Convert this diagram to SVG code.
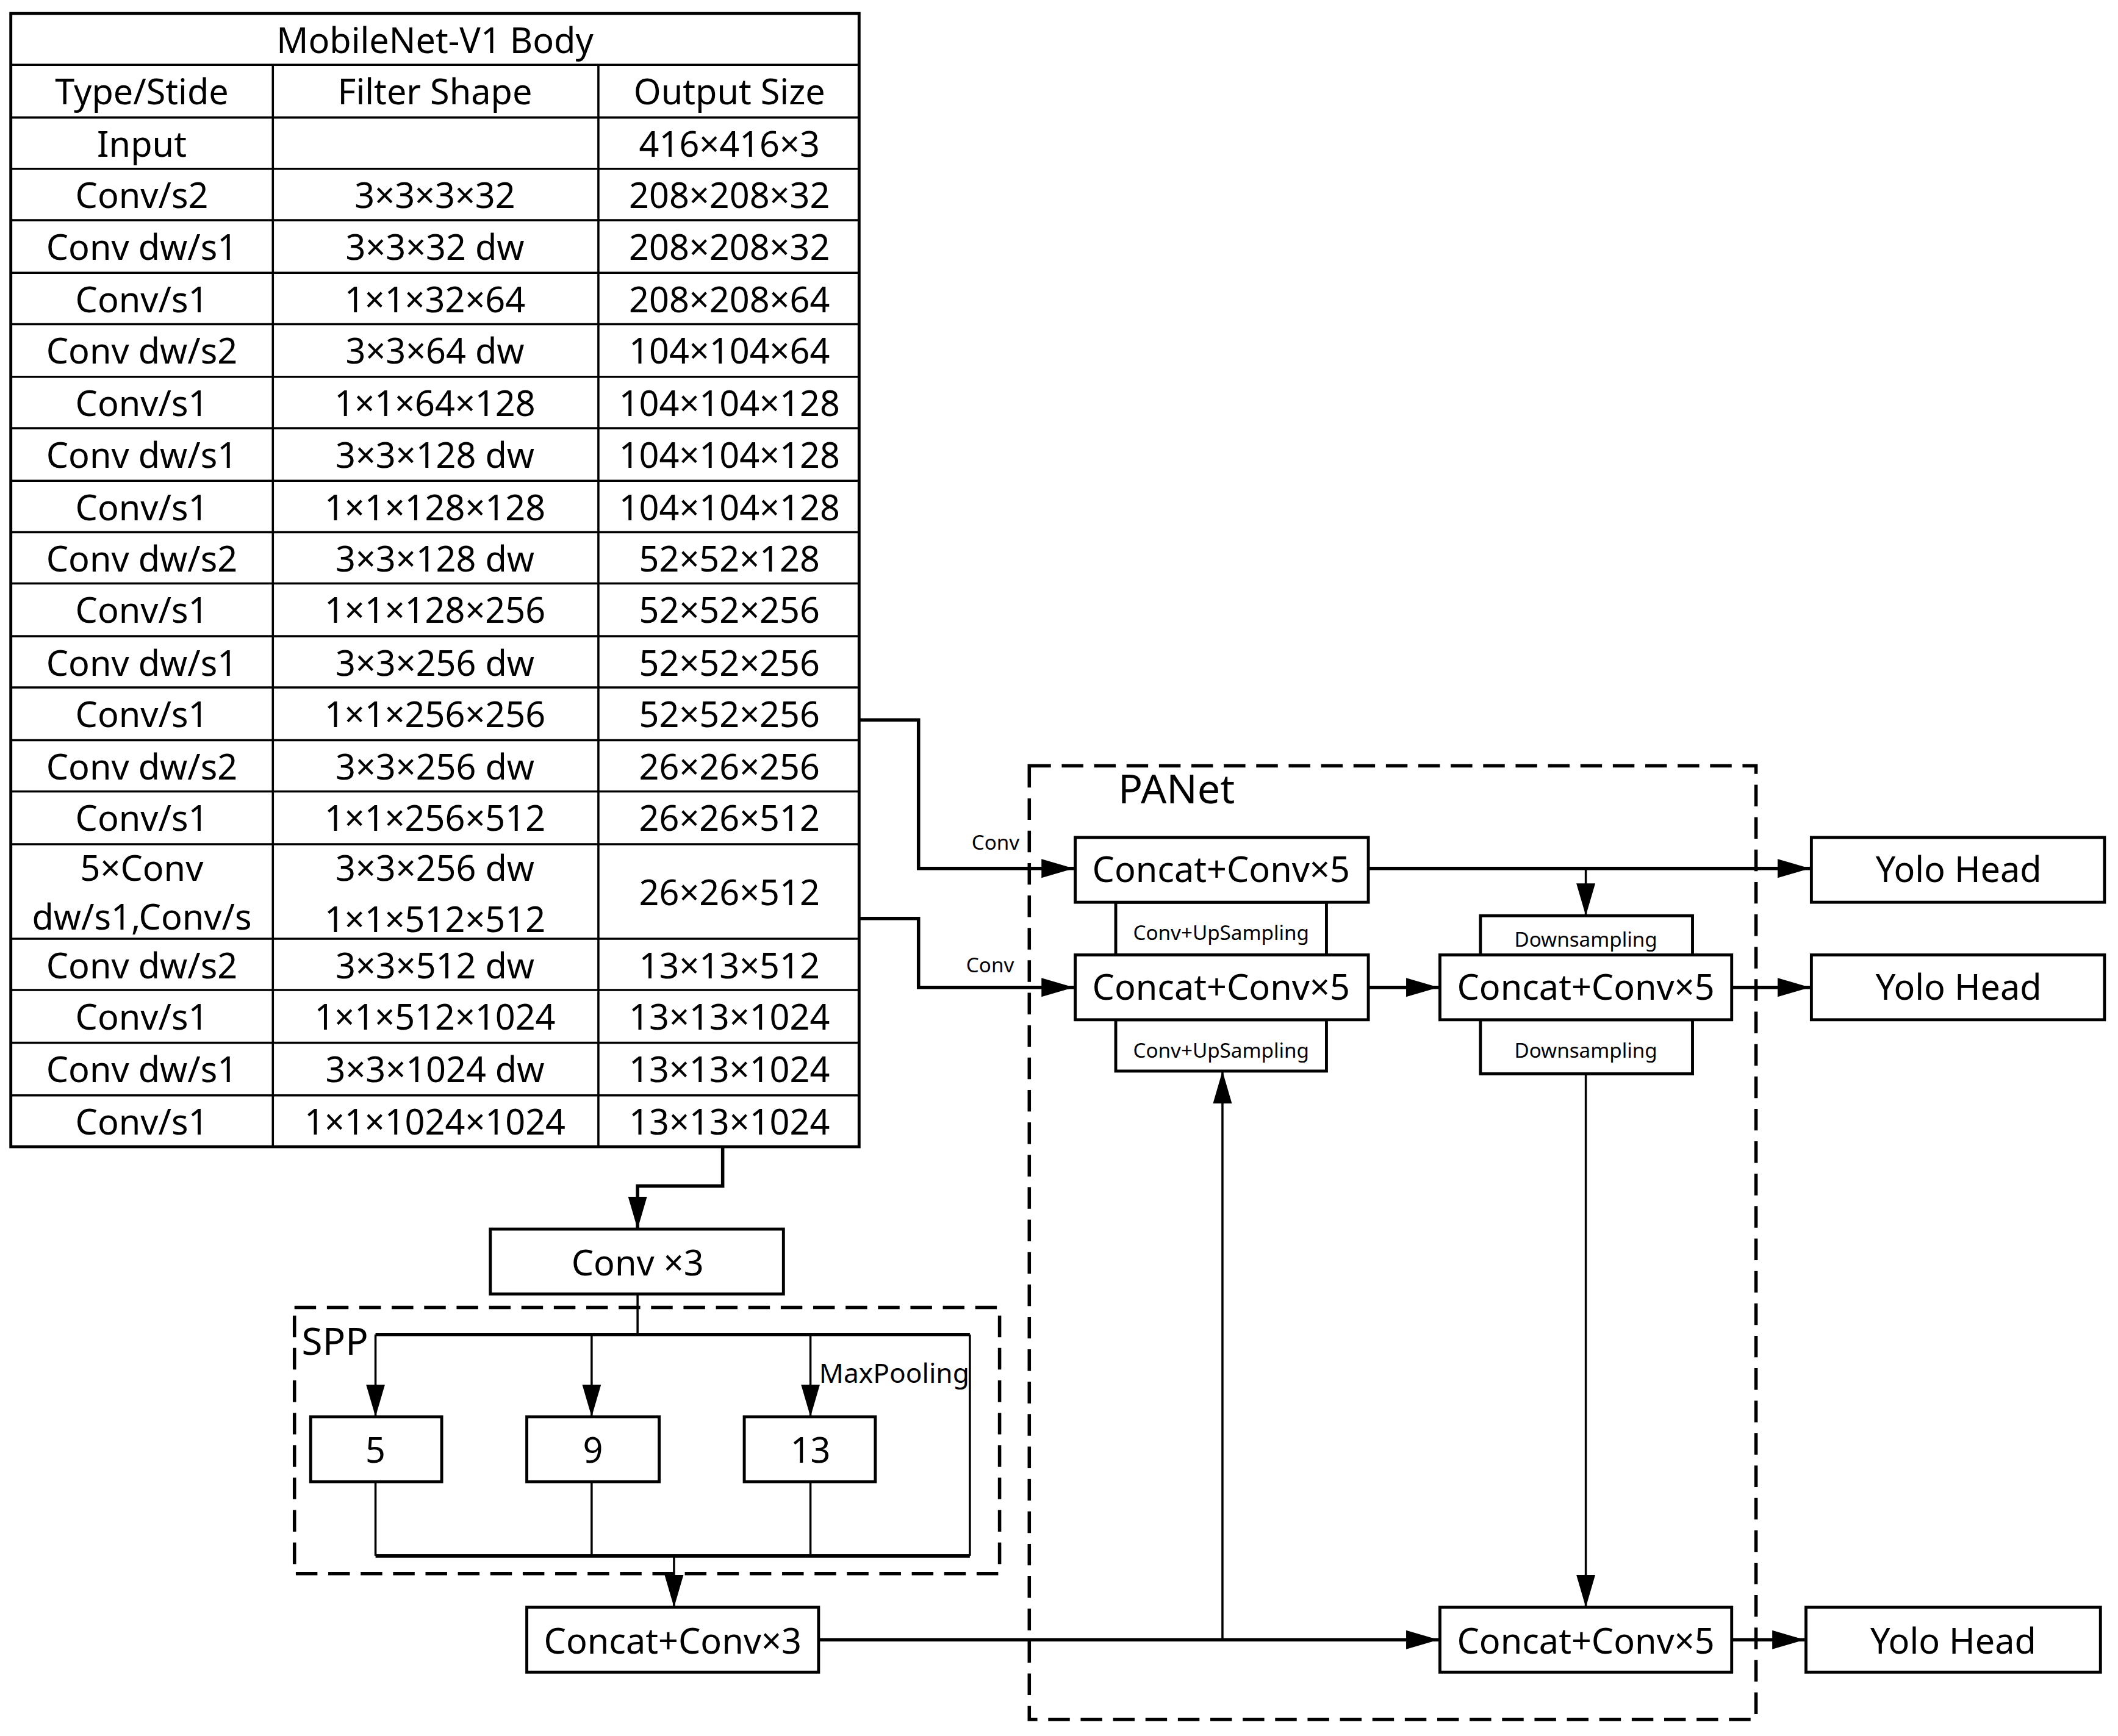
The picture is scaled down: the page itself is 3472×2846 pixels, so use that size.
<svg xmlns="http://www.w3.org/2000/svg" width="3472" height="2846" viewBox="0 0 3472 2846">
<defs>
<style>
text{font-family:"Noto Sans","Open Sans",sans-serif;fill:#000;text-anchor:middle;dominant-baseline:central}
.t{font-size:26px}
.s{font-size:15px}
.b{fill:#fff;stroke:#000;stroke-width:2.2}
.c{fill:none;stroke:#000;stroke-width:2.5}
.n{fill:none;stroke:#000;stroke-width:1.6}
.d{fill:none;stroke:#000;stroke-width:2.5;stroke-dasharray:16 8}
</style>
<marker id="a" markerUnits="userSpaceOnUse" markerWidth="26" markerHeight="16" refX="24" refY="8" orient="auto"><path d="M0,1 L24,8 L0,15 Z" fill="#000"/></marker>
</defs>
<rect width="3472" height="2846" fill="#fff"/>
<g transform="scale(2.2143)">
<g id="table">
<rect x="8" y="10" width="628" height="839" class="b"/>
<g class="n" stroke-width="2">
<path d="M8,48H636M8,87H636M8,125H636M8,163H636M8,202H636M8,240H636M8,279H636M8,317H636M8,356H636M8,394H636M8,432H636M8,471H636M8,509H636M8,548H636M8,586H636M8,625H636M8,695H636M8,733H636M8,772H636M8,811H636"/>
<path d="M202,48V849M443,48V849"/>
</g>
<g class="t">
<text x="322" y="29">MobileNet-V1 Body</text>
<text x="105" y="67">Type/Stide</text><text x="322" y="67">Filter Shape</text><text x="540" y="67">Output Size</text>
<text x="105" y="106">Input</text><text x="540" y="106">416×416×3</text>
<text x="105" y="144">Conv/s2</text><text x="322" y="144">3×3×3×32</text><text x="540" y="144">208×208×32</text>
<text x="105" y="182">Conv dw/s1</text><text x="322" y="182">3×3×32 dw</text><text x="540" y="182">208×208×32</text>
<text x="105" y="221">Conv/s1</text><text x="322" y="221">1×1×32×64</text><text x="540" y="221">208×208×64</text>
<text x="105" y="259">Conv dw/s2</text><text x="322" y="259">3×3×64 dw</text><text x="540" y="259">104×104×64</text>
<text x="105" y="298">Conv/s1</text><text x="322" y="298">1×1×64×128</text><text x="540" y="298">104×104×128</text>
<text x="105" y="336">Conv dw/s1</text><text x="322" y="336">3×3×128 dw</text><text x="540" y="336">104×104×128</text>
<text x="105" y="375">Conv/s1</text><text x="322" y="375">1×1×128×128</text><text x="540" y="375">104×104×128</text>
<text x="105" y="413">Conv dw/s2</text><text x="322" y="413">3×3×128 dw</text><text x="540" y="413">52×52×128</text>
<text x="105" y="451">Conv/s1</text><text x="322" y="451">1×1×128×256</text><text x="540" y="451">52×52×256</text>
<text x="105" y="490">Conv dw/s1</text><text x="322" y="490">3×3×256 dw</text><text x="540" y="490">52×52×256</text>
<text x="105" y="528">Conv/s1</text><text x="322" y="528">1×1×256×256</text><text x="540" y="528">52×52×256</text>
<text x="105" y="567">Conv dw/s2</text><text x="322" y="567">3×3×256 dw</text><text x="540" y="567">26×26×256</text>
<text x="105" y="605">Conv/s1</text><text x="322" y="605">1×1×256×512</text><text x="540" y="605">26×26×512</text>
<text x="105" y="642">5×Conv</text><text x="105" y="678">dw/s1,Conv/s</text>
<text x="322" y="642">3×3×256 dw</text><text x="322" y="680">1×1×512×512</text><text x="540" y="660">26×26×512</text>
<text x="105" y="714">Conv dw/s2</text><text x="322" y="714">3×3×512 dw</text><text x="540" y="714">13×13×512</text>
<text x="105" y="752">Conv/s1</text><text x="322" y="752">1×1×512×1024</text><text x="540" y="752">13×13×1024</text>
<text x="105" y="791">Conv dw/s1</text><text x="322" y="791">3×3×1024 dw</text><text x="540" y="791">13×13×1024</text>
<text x="105" y="830">Conv/s1</text><text x="322" y="830">1×1×1024×1024</text><text x="540" y="830">13×13×1024</text>
</g>
</g>
<g id="spp">
<rect x="218" y="968" width="522" height="197" class="d"/>
<text x="248" y="992" style="font-size:28px">SPP</text>
<text x="662" y="1016" style="font-size:20px">MaxPooling</text>
</g>
<g id="panet">
<rect x="762" y="567" width="538" height="706" class="d"/>
<text x="871" y="583" style="font-size:30px">PANet</text>
</g>
<g id="connectors">
<path class="c" d="M636,533H680V643H795" marker-end="url(#a)"/>
<path class="c" d="M636,680H680V731H795" marker-end="url(#a)"/>
<text class="s" x="737" y="623">Conv</text>
<text class="s" x="733" y="714">Conv</text>
<path class="c" d="M535,849V878H472V910" marker-end="url(#a)"/>
<path class="n" d="M472,958V988"/>
<path class="c" d="M278,988H718"/>
<path class="n" d="M278,988V1049" marker-end="url(#a)"/>
<path class="n" d="M438,988V1049" marker-end="url(#a)"/>
<path class="n" d="M600,988V1049" marker-end="url(#a)"/>
<path class="n" d="M718,988V1152M278,1097V1152M438,1097V1152M600,1097V1152"/>
<path class="c" d="M278,1152H718"/>
<path class="n" d="M499,1152V1190" marker-end="url(#a)"/>
<path class="c" d="M606,1214H1065" marker-end="url(#a)"/>
<path class="n" d="M905,1214V793" marker-end="url(#a)"/>
<path class="c" d="M1013,643H1340" marker-end="url(#a)"/>
<path class="n" d="M1174,643V678" marker-end="url(#a)"/>
<path class="c" d="M1013,731H1065" marker-end="url(#a)"/>
<path class="c" d="M1282,731H1340" marker-end="url(#a)"/>
<path class="n" d="M1174,795V1190" marker-end="url(#a)"/>
<path class="c" d="M1282,1214H1336" marker-end="url(#a)"/>
</g>
<g id="conv3"><rect x="363" y="910" width="217" height="48" class="b"/><text class="t" x="472" y="934">Conv ×3</text></g>
<g id="p5"><rect x="230" y="1049" width="97" height="48" class="b"/><text class="t" x="278" y="1073">5</text></g>
<g id="p9"><rect x="390" y="1049" width="98" height="48" class="b"/><text class="t" x="439" y="1073">9</text></g>
<g id="p13"><rect x="551" y="1049" width="97" height="48" class="b"/><text class="t" x="600" y="1073">13</text></g>
<g id="cc3"><rect x="390" y="1190" width="216" height="48" class="b"/><text class="t" x="498" y="1214">Concat+Conv×3</text></g>
<g id="up1"><rect x="826" y="668" width="156" height="39" class="b"/><text class="s" x="904" y="690">Conv+UpSampling</text></g>
<g id="up2"><rect x="826" y="755" width="156" height="38" class="b"/><text class="s" x="904" y="777">Conv+UpSampling</text></g>
<g id="cc5a"><rect x="796" y="620" width="217" height="48" class="b"/><text class="t" x="904" y="643">Concat+Conv×5</text></g>
<g id="cc5b"><rect x="796" y="707" width="217" height="48" class="b"/><text class="t" x="904" y="730">Concat+Conv×5</text></g>
<g id="ds1"><rect x="1096" y="678" width="157" height="30" class="b"/><text class="s" x="1174" y="695">Downsampling</text></g>
<g id="ds2"><rect x="1096" y="755" width="157" height="40" class="b"/><text class="s" x="1174" y="777">Downsampling</text></g>
<g id="cc5c"><rect x="1066" y="707" width="216" height="48" class="b"/><text class="t" x="1174" y="730">Concat+Conv×5</text></g>
<g id="cc5d"><rect x="1066" y="1190" width="216" height="48" class="b"/><text class="t" x="1174" y="1214">Concat+Conv×5</text></g>
<g id="yolo1"><rect x="1341" y="620" width="217" height="48" class="b"/><text class="t" x="1450" y="643">Yolo Head</text></g>
<g id="yolo2"><rect x="1341" y="707" width="217" height="48" class="b"/><text class="t" x="1450" y="730">Yolo Head</text></g>
<g id="yolo3"><rect x="1337" y="1190" width="218" height="48" class="b"/><text class="t" x="1446" y="1214">Yolo Head</text></g>
</g>
</svg>
